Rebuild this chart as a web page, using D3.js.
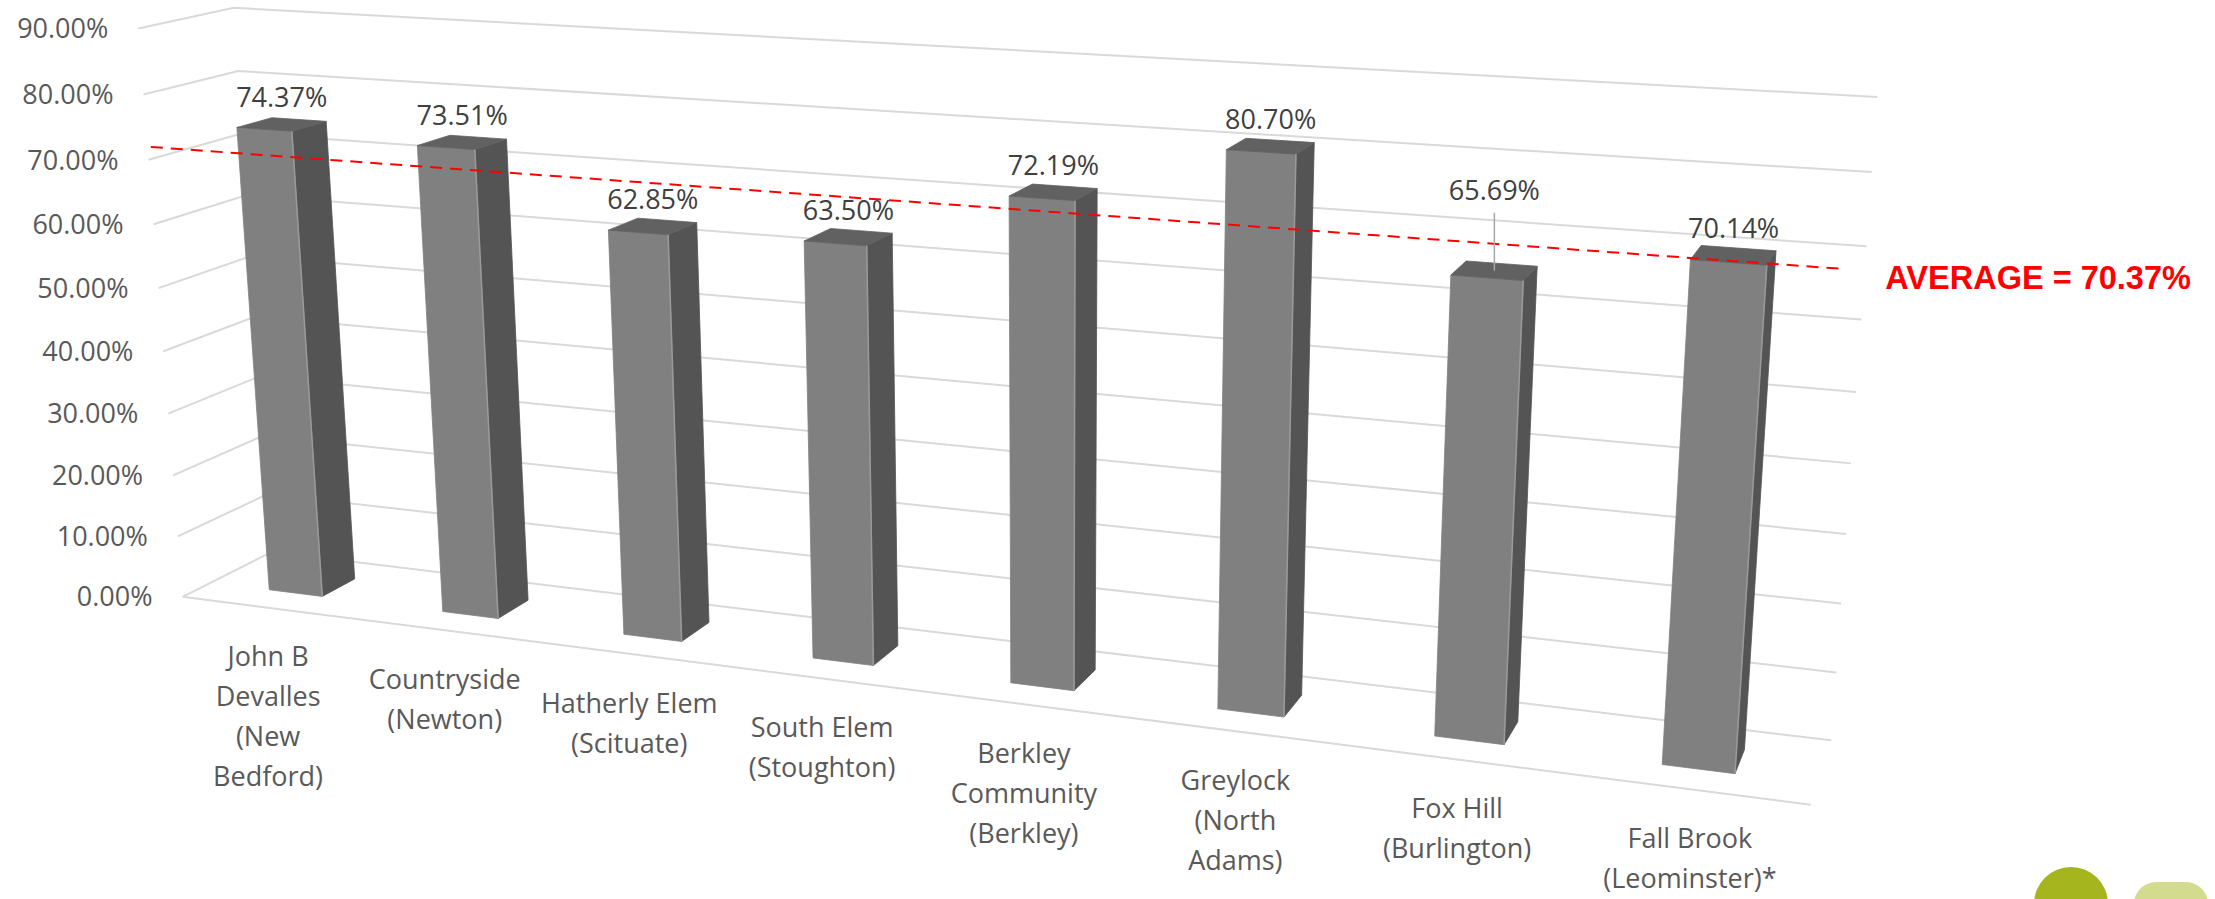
<!DOCTYPE html>
<html><head><meta charset="utf-8">
<script src="https://cdn.jsdelivr.net/npm/d3@7"></script>
<style>html,body{margin:0;padding:0;background:#fff;overflow:hidden}</style>
</head><body>
<svg id="chart" width="2215" height="899"></svg>
<script>
// ---------------- DATA ----------------
const categories = [
  "John B Devalles (New Bedford)", "Countryside (Newton)", "Hatherly Elem (Scituate)",
  "South Elem (Stoughton)", "Berkley Community (Berkley)", "Greylock (North Adams)",
  "Fox Hill (Burlington)", "Fall Brook (Leominster)*"
];
const categoryLines = [
  ["John B", "Devalles", "(New", "Bedford)"],
  ["Countryside", "(Newton)"],
  ["Hatherly Elem", "(Scituate)"],
  ["South Elem", "(Stoughton)"],
  ["Berkley", "Community", "(Berkley)"],
  ["Greylock", "(North", "Adams)"],
  ["Fox Hill", "(Burlington)"],
  ["Fall Brook", "(Leominster)*"]
];
const values = [74.37, 73.51, 62.85, 63.50, 72.19, 80.70, 65.69, 70.14];
const yTicks = [0, 10, 20, 30, 40, 50, 60, 70, 80, 90];
const averageValue = 70.37;
const averageText = "AVERAGE = 70.37%";

// ---------------- LAYOUT ----------------
const W = 2215, H = 899;
const svg = d3.select("#chart");

// world: x = category axis (0..8), y = value, z = depth (0 front .. 1 back)
const xBand = d3.scaleBand().domain(categories).range([0, 8]).paddingInner(0.69).paddingOuter(0.345);
const yWorld = d3.scaleLinear().domain([0, 90]).range([0, 9]);
const zFront = 0.31, zBack = 0.69;

// reference frame calibration: [value-space point] -> screen point
const frameCalib = [
  [[0, 0, 0], [182, 596]], [[0, 10, 0], [177, 536]], [[0, 80, 0], [144, 95]], [[0, 90, 0], [139, 29]],
  [[0, 0, 1], [273, 553]], [[0, 80, 1], [238, 71]], [[0, 90, 1], [233, 7]],
  [[8, 0, 0], [1811, 805]], [[8, 0, 1], [1831, 740]], [[8, 80, 1], [1872, 172]], [[8, 90, 1], [1877, 97]]
];

function gauss(A, b) {
  const n = b.length;
  const M = A.map((r, i) => r.concat([b[i]]));
  for (let c = 0; c < n; c++) {
    let piv = c;
    for (let r = c + 1; r < n; r++) if (Math.abs(M[r][c]) > Math.abs(M[piv][c])) piv = r;
    [M[c], M[piv]] = [M[piv], M[c]];
    for (let r = 0; r < n; r++) {
      if (r === c) continue;
      const f = M[r][c] / M[c][c];
      for (let k = c; k <= n; k++) M[r][k] -= f * M[c][k];
    }
  }
  return M.map((r, i) => r[n] / r[i]);
}
function fitCamera(pairs) {
  const n = 11, AtA = Array.from({length: n}, () => new Array(n).fill(0)), Atb = new Array(n).fill(0);
  pairs.forEach(([[X, V, Z], [u, v]]) => {
    const Y = yWorld(V);
    const rows = [[X, Y, Z, 1, 0, 0, 0, 0, -u * X, -u * Y, -u * Z], [0, 0, 0, 0, X, Y, Z, 1, -v * X, -v * Y, -v * Z]];
    [u, v].forEach((rhs, k) => {
      const r = rows[k];
      for (let i = 0; i < n; i++) { Atb[i] += r[i] * rhs; for (let j = 0; j < n; j++) AtA[i][j] += r[i] * r[j]; }
    });
  });
  return gauss(AtA, Atb);
}
const P = fitCamera(frameCalib);
function proj(X, V, Z) {
  const Y = yWorld(V);
  const w = P[8] * X + P[9] * Y + P[10] * Z + 1;
  return [(P[0] * X + P[1] * Y + P[2] * Z + P[3]) / w, (P[4] * X + P[5] * Y + P[6] * Z + P[7]) / w];
}
// camera centre (for face visibility)
function inv3(m) {
  const [a, b, c] = m[0], [d, e, f] = m[1], [g, h, i] = m[2];
  const A = e * i - f * h, B = -(d * i - f * g), C = d * h - e * g;
  const det = a * A + b * B + c * C;
  return [[A / det, -(b * i - c * h) / det, (b * f - c * e) / det],
          [B / det, (a * i - c * g) / det, -(a * f - c * d) / det],
          [C / det, -(a * h - b * g) / det, (a * e - b * d) / det]];
}
const Mi = inv3([[P[0], P[1], P[2]], [P[4], P[5], P[6]], [P[8], P[9], P[10]]]);
const p4 = [P[3], P[7], 1];
const cam = Mi.map(r => -(r[0] * p4[0] + r[1] * p4[1] + r[2] * p4[2]));

const line = d3.line();

// ---------------- GRID ----------------
const gGrid = svg.append("g");
yTicks.forEach(t => {
  gGrid.append("path")
    .attr("d", line([proj(0, t, 0), proj(0, t, 1), proj(8, t, 1)]))
    .attr("fill", "none").attr("stroke", "#d9d9d9").attr("stroke-width", 2);
});
gGrid.append("path").attr("d", line([proj(0, 0, 0), proj(8, 0, 0)]))
  .attr("fill", "none").attr("stroke", "#d9d9d9").attr("stroke-width", 2);

// y-axis labels
svg.append("g").selectAll("text").data(yTicks).join("text")
  .attr("x", d => proj(0, d, 0)[0] - 30)
  .attr("y", d => proj(0, d, 0)[1])
  .attr("dy", "0.36em")
  .attr("text-anchor", "end")
  .attr("font-family", "'Open Sans', sans-serif").attr("font-size", 27).attr("fill", "#595959")
  .text(d => d.toFixed(2) + "%");

// ---------------- BARS ----------------
const gBars = svg.append("g");
const bw = xBand.bandwidth();
categories.forEach((c, i) => {
  const x0 = xBand(c), x1 = x0 + bw, v = values[i];
  const g = gBars.append("g");
  const faces = [];
  if (cam[0] < x0) faces.push({pts: [[x0, 0, zFront], [x0, 0, zBack], [x0, v, zBack], [x0, v, zFront]], fill: "#545454"});
  if (cam[0] > x1) faces.push({pts: [[x1, 0, zFront], [x1, 0, zBack], [x1, v, zBack], [x1, v, zFront]], fill: "#545454"});
  faces.push({pts: [[x0, 0, zFront], [x1, 0, zFront], [x1, v, zFront], [x0, v, zFront]], fill: "#808080"});
  faces.push({pts: [[x0, v, zFront], [x1, v, zFront], [x1, v, zBack], [x0, v, zBack]], fill: "#616161"});
  faces.forEach(f => {
    g.append("path").attr("d", line(f.pts.map(p => proj(...p))) + "Z")
      .attr("fill", f.fill).attr("stroke", f.fill).attr("stroke-width", 0.8).attr("stroke-linejoin", "round");
  });
  // light front-right edge
  g.append("path").attr("d", line([proj(x1, 0, zFront), proj(x1, v, zFront)]))
    .attr("stroke", "#9a9a9a").attr("stroke-width", 1.5).attr("fill", "none");
});

// ---------------- AVERAGE LINE ----------------
const avgStart = proj(-0.16, averageValue, zFront), avgEnd = proj(7.96, averageValue, zFront);
svg.append("path").attr("d", line([avgStart, avgEnd]))
  .attr("stroke", "#ff0000").attr("stroke-width", 2).attr("stroke-dasharray", "12,8").attr("fill", "none");
svg.append("text").attr("x", avgEnd[0] + 42).attr("y", avgEnd[1] + 20)
  .attr("font-family", "'Liberation Sans', Arial, sans-serif").attr("font-weight", "bold")
  .attr("font-size", 32.5).attr("fill", "#ff0000").text(averageText);

// ---------------- DATA LABELS ----------------
const raisedLabel = 6, raiseExtra = 53;
const gLab = svg.append("g");
categories.forEach((c, i) => {
  const x0 = xBand(c), x1 = x0 + bw, v = values[i];
  const corners = [[x0, v, zFront], [x1, v, zFront], [x1, v, zBack], [x0, v, zBack]].map(p => proj(...p));
  const cx = d3.mean(corners, d => d[0]), cy = d3.mean(corners, d => d[1]);
  const lift = 27 + (i === raisedLabel ? raiseExtra : 0);
  if (i === raisedLabel) {
    gLab.append("path").attr("d", line([[cx, cy - lift + 22], [cx, cy]]))
      .attr("stroke", "#a6a6a6").attr("stroke-width", 1.5).attr("fill", "none");
  }
  gLab.append("text").attr("x", cx).attr("y", cy - lift).attr("dy", "0.36em")
    .attr("text-anchor", "middle")
    .attr("font-family", "'Open Sans', sans-serif").attr("font-size", 27).attr("fill", "#404040")
    .text(v.toFixed(2) + "%");
});

// ---------------- CATEGORY LABELS ----------------
const gCat = svg.append("g");
categories.forEach((c, i) => {
  const p = proj(xBand(c) + bw / 2, 0, 0);
  const t = gCat.append("text").attr("text-anchor", "middle")
    .attr("font-family", "'Open Sans', sans-serif").attr("font-size", 27).attr("fill", "#595959");
  categoryLines[i].forEach((ln, k) => {
    t.append("tspan").attr("x", p[0]).attr("y", p[1] + 49 + k * 40).attr("dy", "0.36em").text(ln);
  });
});

// ---------------- SLIDE DECORATION ----------------
svg.append("circle").attr("cx", 2071).attr("cy", 904).attr("r", 37).attr("fill", "#a5b51e");
svg.append("rect").attr("x", 2134).attr("y", 882).attr("width", 74).attr("height", 60).attr("rx", 22).attr("fill", "#d2db8e");
</script>
</body></html>
